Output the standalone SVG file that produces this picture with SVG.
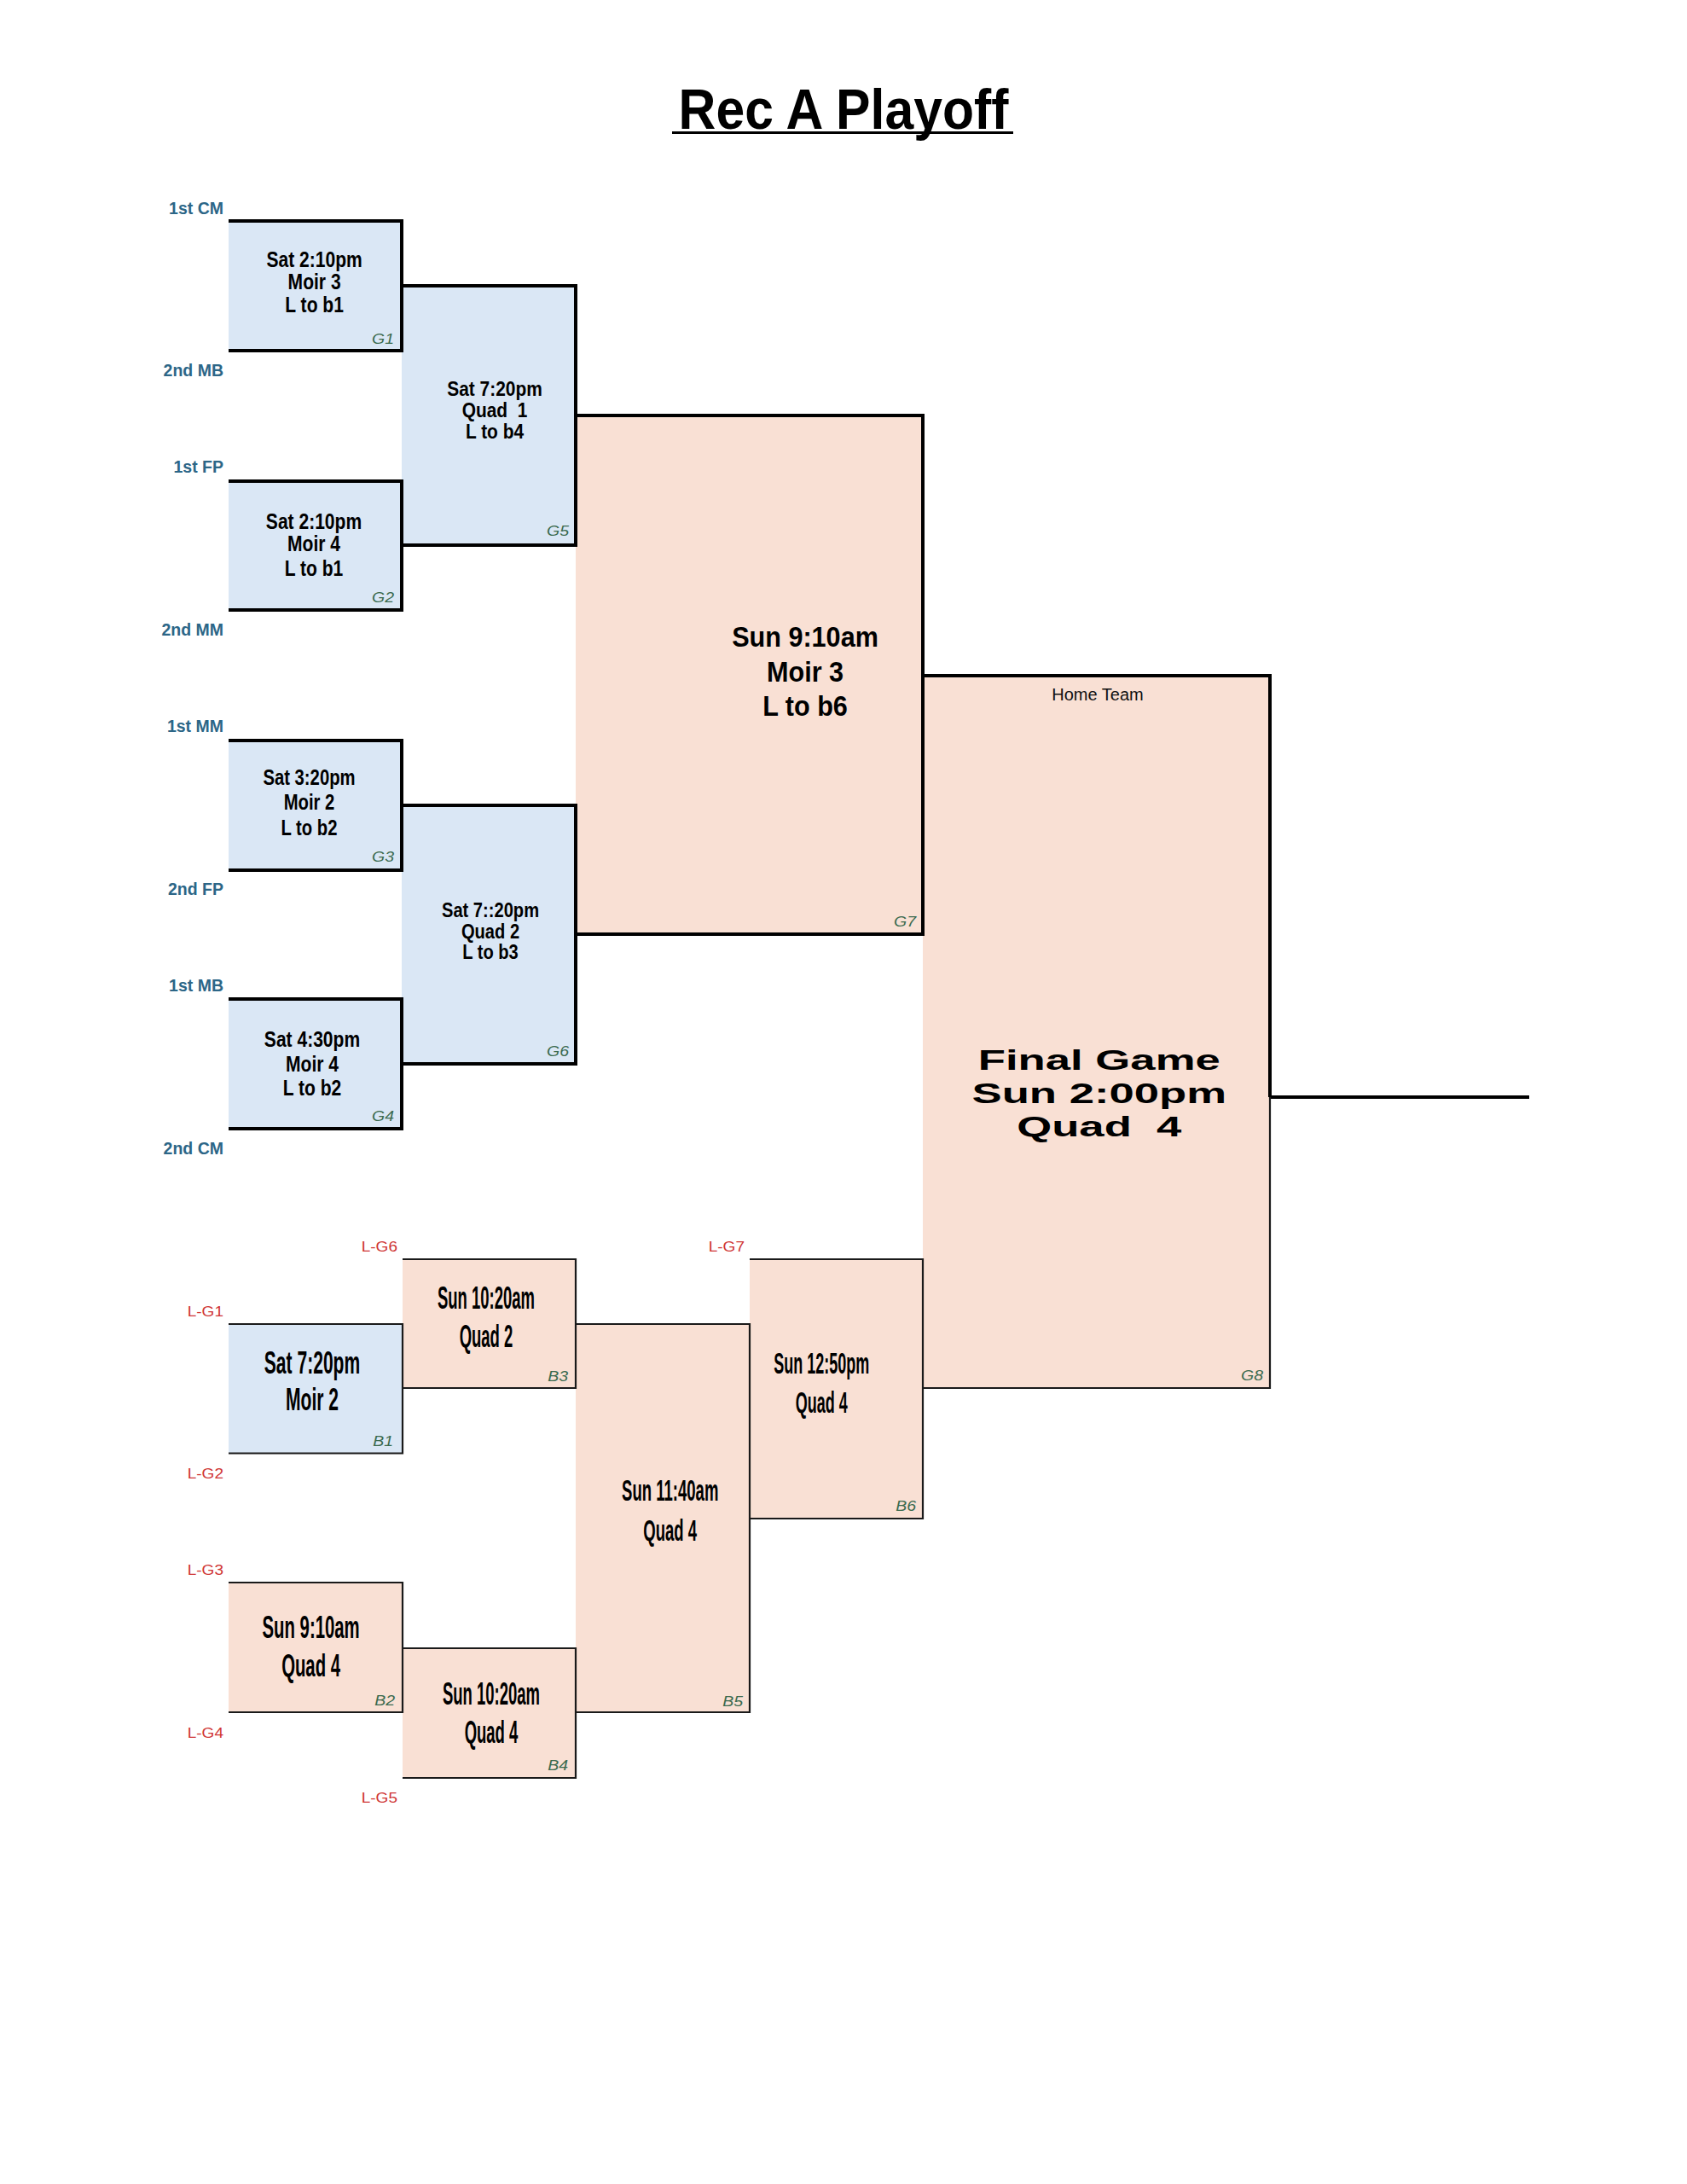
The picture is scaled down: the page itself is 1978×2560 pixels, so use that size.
<svg xmlns="http://www.w3.org/2000/svg" width="1978" height="2560" viewBox="0 0 1978 2560">
<style>
.blue{fill:#dae7f5}
.pink{fill:#f9e0d4}
.thick{fill:none;stroke:#000;stroke-width:4;stroke-linejoin:miter}
.thin{fill:none;stroke:#1a1a1a;stroke-width:2.2;stroke-linejoin:miter}
.bt{font-family:"Liberation Sans",Arial,sans-serif;font-weight:bold;text-anchor:middle;fill:#000}
.seed{font-family:"Liberation Sans",Arial,sans-serif;font-weight:bold;font-size:19.5px;fill:#2c6687;text-anchor:end}
.lose{font-family:"Liberation Sans",Arial,sans-serif;font-size:17px;fill:#cf3434;text-anchor:end}
.gid{font-family:"Liberation Sans",Arial,sans-serif;font-style:italic;font-size:16px;fill:#3a6a4e;text-anchor:end}
.home{font-family:"Liberation Sans",Arial,sans-serif;font-size:20px;fill:#111;text-anchor:middle}
</style>
<rect width="1978" height="2560" fill="#fff"/>
<g id="title">
<text class="bt" font-size="66" transform="translate(989,151) scale(0.92,1)">Rec A Playoff</text>
<rect x="788" y="154" width="400" height="3" fill="#000"/>
</g>
<g id="connectors">
<path d="M1489,1286 H1793" fill="none" stroke="#000" stroke-width="4"/>
</g>
<g id="G8">
<rect class="pink" x="1082" y="792" width="407" height="835"/>
<path class="thick" d="M1082,792 H1489 V1286"/>
<path class="thin" d="M1489,1286 V1627 H1082"/>
<text class="home" x="1287" y="821">Home Team</text>
<text class="bt" font-size="34" transform="translate(1288.8,1253.6) scale(1.55,1)">Final Game</text>
<text class="bt" font-size="34" transform="translate(1288.8,1293) scale(1.55,1)">Sun 2:00pm</text>
<text class="bt" font-size="34" transform="translate(1288.8,1332) scale(1.55,1)" xml:space="preserve">Quad  4</text>
<text class="gid" transform="translate(1481,1618) scale(1.22,1)">G8</text>
</g>
<g id="G7">
<rect class="pink" x="675" y="487" width="407" height="608"/>
<path class="thick" d="M675,487 H1082 V1095 H675"/>
<text class="bt" font-size="34" transform="translate(944,758) scale(0.9,1)">Sun 9:10am</text>
<text class="bt" font-size="34" transform="translate(944,799) scale(0.9,1)">Moir 3</text>
<text class="bt" font-size="34" transform="translate(944,839) scale(0.9,1)">L to b6</text>
<text class="gid" transform="translate(1074,1086) scale(1.22,1)">G7</text>
</g>
<g id="B6">
<rect class="pink" x="879" y="1476" width="203" height="304"/>
<path class="thin" d="M879,1476 H1082 V1780 H879"/>
<text class="bt" font-size="36" transform="translate(963.3,1610) scale(0.5,1)">Sun 12:50pm</text>
<text class="bt" font-size="36" transform="translate(963.3,1656) scale(0.5,1)">Quad 4</text>
<text class="gid" transform="translate(1074,1771) scale(1.22,1)">B6</text>
</g>
<g id="G5">
<rect class="blue" x="471" y="335" width="204" height="304"/>
<path class="thick" d="M471,335 H675 V639 H471"/>
<text class="bt" font-size="23" transform="translate(580,464) scale(0.91,1)">Sat 7:20pm</text>
<text class="bt" font-size="23" transform="translate(580,489) scale(0.91,1)" xml:space="preserve">Quad  1</text>
<text class="bt" font-size="23" transform="translate(580,514) scale(0.91,1)">L to b4</text>
<text class="gid" transform="translate(667,628) scale(1.22,1)">G5</text>
</g>
<g id="G6">
<rect class="blue" x="471" y="944" width="204" height="303"/>
<path class="thick" d="M471,944 H675 V1247 H471"/>
<text class="bt" font-size="23" transform="translate(575,1074.6) scale(0.875,1)">Sat 7::20pm</text>
<text class="bt" font-size="23" transform="translate(575,1099.8) scale(0.875,1)">Quad 2</text>
<text class="bt" font-size="23" transform="translate(575,1124.3) scale(0.875,1)">L to b3</text>
<text class="gid" transform="translate(667,1238) scale(1.22,1)">G6</text>
</g>
<g id="B5">
<rect class="pink" x="675" y="1552" width="204" height="455"/>
<path class="thin" d="M675,1552 H879 V2007 H675"/>
<text class="bt" font-size="36" transform="translate(785.7,1758.7) scale(0.515,1)">Sun 11:40am</text>
<text class="bt" font-size="36" transform="translate(785.7,1805.8) scale(0.515,1)">Quad 4</text>
<text class="gid" transform="translate(871,2000) scale(1.22,1)">B5</text>
</g>
<g id="B3">
<rect class="pink" x="472" y="1476" width="203" height="151"/>
<path class="thin" d="M472,1476 H675 V1627 H472"/>
<text class="bt" font-size="37" transform="translate(570,1533.8) scale(0.5,1)">Sun 10:20am</text>
<text class="bt" font-size="37" transform="translate(570,1578.5) scale(0.5,1)">Quad 2</text>
<text class="gid" transform="translate(666,1619) scale(1.22,1)">B3</text>
</g>
<g id="B4">
<rect class="pink" x="472" y="1932" width="203" height="152"/>
<path class="thin" d="M472,1932 H675 V2084 H472"/>
<text class="bt" font-size="37" transform="translate(576,1998) scale(0.5,1)">Sun 10:20am</text>
<text class="bt" font-size="37" transform="translate(576,2042.8) scale(0.5,1)">Quad 4</text>
<text class="gid" transform="translate(666,2075) scale(1.22,1)">B4</text>
</g>
<g id="G1">
<rect class="blue" x="268" y="259" width="203" height="152"/>
<path class="thick" d="M268,259 H471 V411 H268"/>
<text class="bt" font-size="26" transform="translate(368.6,312.5) scale(0.81,1)">Sat 2:10pm</text>
<text class="bt" font-size="26" transform="translate(368.6,339.3) scale(0.81,1)">Moir 3</text>
<text class="bt" font-size="26" transform="translate(368.6,366) scale(0.81,1)">L to b1</text>
<text class="gid" transform="translate(462,402.5) scale(1.22,1)">G1</text>
</g>
<g id="G2">
<rect class="blue" x="268" y="564" width="203" height="151"/>
<path class="thick" d="M268,564 H471 V715 H268"/>
<text class="bt" font-size="26" transform="translate(368,619.6) scale(0.81,1)">Sat 2:10pm</text>
<text class="bt" font-size="26" transform="translate(368,646.4) scale(0.81,1)">Moir 4</text>
<text class="bt" font-size="26" transform="translate(368,675) scale(0.81,1)">L to b1</text>
<text class="gid" transform="translate(462,705.5) scale(1.22,1)">G2</text>
</g>
<g id="G3">
<rect class="blue" x="268" y="868" width="203" height="152"/>
<path class="thick" d="M268,868 H471 V1020 H268"/>
<text class="bt" font-size="26" transform="translate(362.5,920) scale(0.78,1)">Sat 3:20pm</text>
<text class="bt" font-size="26" transform="translate(362.5,949.4) scale(0.78,1)">Moir 2</text>
<text class="bt" font-size="26" transform="translate(362.5,979) scale(0.78,1)">L to b2</text>
<text class="gid" transform="translate(462,1009.5) scale(1.22,1)">G3</text>
</g>
<g id="G4">
<rect class="blue" x="268" y="1171" width="203" height="152"/>
<path class="thick" d="M268,1171 H471 V1323 H268"/>
<text class="bt" font-size="26" transform="translate(366,1227) scale(0.81,1)">Sat 4:30pm</text>
<text class="bt" font-size="26" transform="translate(366,1255.6) scale(0.81,1)">Moir 4</text>
<text class="bt" font-size="26" transform="translate(366,1283.5) scale(0.81,1)">L to b2</text>
<text class="gid" transform="translate(462,1314) scale(1.22,1)">G4</text>
</g>
<g id="B1">
<rect class="blue" x="268" y="1552" width="204" height="151.5"/>
<path class="thin" d="M268,1552 H472 V1703.5 H268"/>
<text class="bt" font-size="37" transform="translate(366,1609.7) scale(0.57,1)">Sat 7:20pm</text>
<text class="bt" font-size="37" transform="translate(366,1653) scale(0.57,1)">Moir 2</text>
<text class="gid" transform="translate(461,1694.5) scale(1.22,1)">B1</text>
</g>
<g id="B2">
<rect class="pink" x="268" y="1855" width="204" height="152"/>
<path class="thin" d="M268,1855 H472 V2007 H268"/>
<text class="bt" font-size="37" transform="translate(364.6,1920) scale(0.55,1)">Sun 9:10am</text>
<text class="bt" font-size="37" transform="translate(364.6,1964.6) scale(0.55,1)">Quad 4</text>
<text class="gid" transform="translate(463,1999) scale(1.22,1)">B2</text>
</g>
<g id="seeds">
<text class="seed" x="262" y="250.7">1st CM</text>
<text class="seed" x="262" y="441">2nd MB</text>
<text class="seed" x="262" y="553.6">1st FP</text>
<text class="seed" x="262" y="744.6">2nd MM</text>
<text class="seed" x="262" y="857.6">1st MM</text>
<text class="seed" x="262" y="1049">2nd FP</text>
<text class="seed" x="262" y="1162">1st MB</text>
<text class="seed" x="262" y="1353">2nd CM</text>
</g>
<g id="loser-entries">
<text class="lose" transform="translate(466,1467) scale(1.12,1)">L-G6</text>
<text class="lose" transform="translate(262,1543) scale(1.12,1)">L-G1</text>
<text class="lose" transform="translate(262,1733.4) scale(1.12,1)">L-G2</text>
<text class="lose" transform="translate(262,1846) scale(1.12,1)">L-G3</text>
<text class="lose" transform="translate(262,2037.4) scale(1.12,1)">L-G4</text>
<text class="lose" transform="translate(466,2113) scale(1.12,1)">L-G5</text>
<text class="lose" transform="translate(873,1466.7) scale(1.12,1)">L-G7</text>
</g>
</svg>
